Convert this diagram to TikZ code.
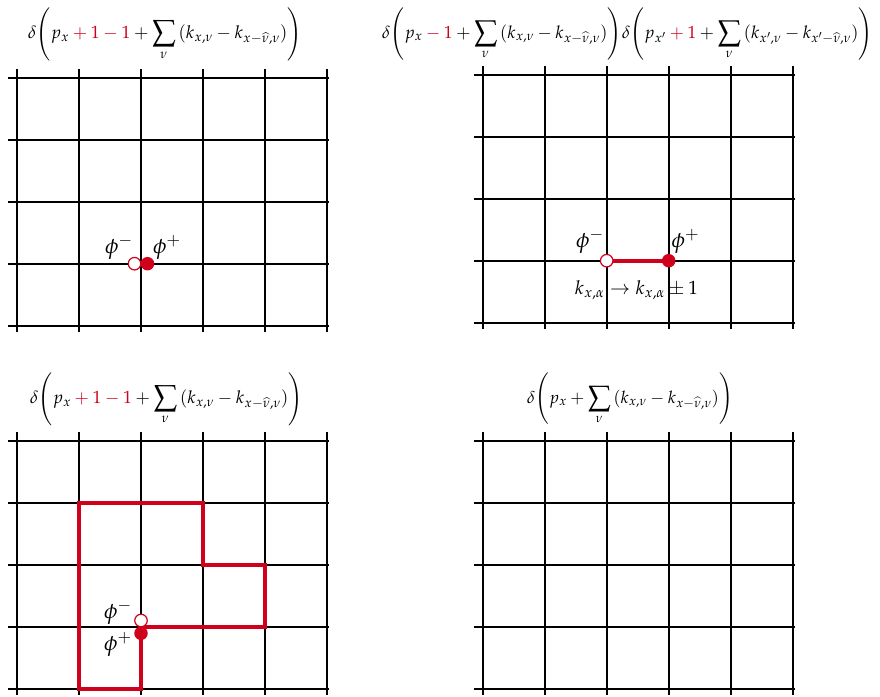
\documentclass[tikz,border=0pt]{standalone}
\usepackage{mathpazo}
\usepackage{graphicx}
\definecolor{myred}{RGB}{208,2,27}
\newcommand\drawlattice[2]{%
  \foreach \i in {0,...,5} \draw[gridline] ({#1+62*\i},{#2-9}) -- ({#1+62*\i},{#2+254});
  \foreach \j in {0,...,4} \draw[gridline] ({#1-9},{#2+62*\j}) -- ({#1+312},{#2+62*\j});
}
\newcommand\rd[1]{{\color{myred}#1}}
\newcommand\sumnu{\mathop{\vcenter{\hbox{\resizebox{!}{20pt}{$\displaystyle\sum$}}}}\limits_\nu\,}
\begin{document}
\begin{tikzpicture}[x=1pt,y=-1pt,
  gridline/.style={black, line width=1.2pt},
  redpath/.style={myred, line width=3.6pt},
  openpt/.style={circle, draw=myred, fill=white, line width=1.2pt, minimum size=12.5pt, inner sep=0pt},
  fullpt/.style={circle, fill=myred, minimum size=13.5pt, inner sep=0pt},
  lbl/.style={font=\fontsize{22}{26}\selectfont, inner sep=0pt},
  formula/.style={inner sep=0pt, font=\fontsize{19}{23}\selectfont}]
\useasboundingbox (0,0) rectangle (880,696);
% lattices
\drawlattice{17}{78}
\drawlattice{483}{75}
\drawlattice{17}{441}
\drawlattice{483}{441}
% formulas
\node[formula] (f1) at (165,34) {\resizebox{274pt}{!}{$\delta\Bigg(p_x \rd{{}+1-1} + \sumnu(k_{x,\nu} - k_{x-\widehat{\nu},\nu})\Bigg)$}};
\node[formula] (f2) at (627.4,34) {\resizebox{491pt}{!}{$\delta\Bigg(p_x \rd{{}-1} + \sumnu(k_{x,\nu} - k_{x-\widehat{\nu},\nu})\Bigg)\delta\Bigg(p_{x'} \rd{{}+1} + \sumnu(k_{x',\nu} - k_{x'-\widehat{\nu},\nu})\Bigg)$}};
\node[formula] (f3) at (166.5,399) {\resizebox{273pt}{!}{$\delta\Bigg(p_x \rd{{}+1-1} + \sumnu(k_{x,\nu} - k_{x-\widehat{\nu},\nu})\Bigg)$}};
\node[formula] (f4) at (630,399) {\resizebox{206pt}{!}{$\delta\Bigg(p_x + \sumnu(k_{x,\nu} - k_{x-\widehat{\nu},\nu})\Bigg)$}};
% top-left panel
\node[openpt] (ao) at (134.5,263.7) {};
\node[fullpt] (af) at (147.5,263.7) {};
\node[lbl] (am) at (119,247) {$\phi^-$};
\node[lbl] (ap) at (167,247) {$\phi^+$};
% top-right panel
\draw[redpath] (606.7,260.7) -- (668.7,260.7);
\node[openpt] (bo) at (606.7,260.7) {};
\node[fullpt] (bf) at (668.7,260.7) {};
\node[lbl] (bm) at (590,241) {$\phi^-$};
\node[lbl] (bp) at (685.5,241) {$\phi^+$};
\node[formula] (bk) at (636.5,290) {\resizebox{123pt}{!}{$k_{x,\alpha}\to k_{x,\alpha}\pm 1$}};
% bottom-left panel
\draw[redpath] (141,627) -- (265,627) -- (265,565) -- (203,565) -- (203,503) -- (79,503) -- (79,689) -- (141,689) -- cycle;
\node[openpt] (co) at (141,620.5) {};
\node[fullpt] (cf) at (141,633.3) {};
\node[lbl] (cm) at (118,612) {$\phi^-$};
\node[lbl] (cp) at (118,644) {$\phi^+$};
\end{tikzpicture}
\end{document}
